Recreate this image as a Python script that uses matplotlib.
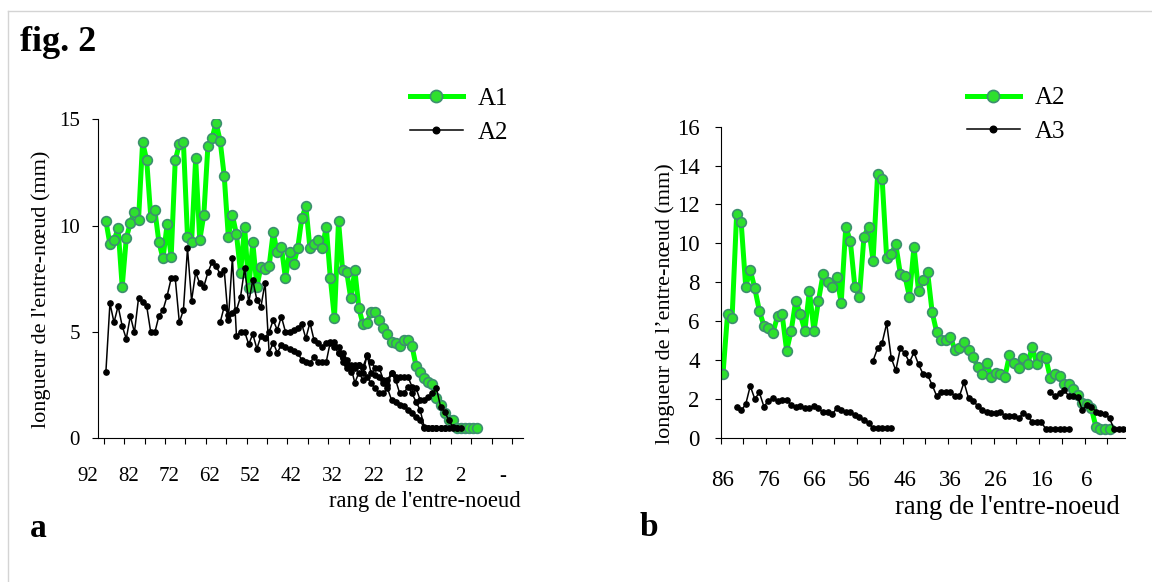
import numpy as np
import matplotlib.pyplot as plt
from matplotlib.lines import Line2D

plt.rcParams['font.family'] = ['Liberation Serif', 'DejaVu Serif']

W, H = 1152, 582

# ---- panel a : rank 92 -> 1 (category index 0 = rank 92)
a_xlabels = ['92', '82', '72', '62', '52', '42', '32', '22', '12', '2', '-']
a1_values = [10.23, 9.12, 9.32, 9.87, 7.13, 9.40, 10.14, 10.65, 10.26, 13.92,
             13.08, 10.42, 10.73, 9.21, 8.46, 10.06, 8.54, 13.08, 13.82, 13.92,
             9.48, 9.21, 13.16, 9.32, 10.50, 13.74, 14.10, 14.84, 13.99, 12.33,
             9.48, 10.50, 9.59, 7.79, 9.95, 7.05, 9.21, 7.13, 8.07, 7.96,
             8.10, 9.68, 8.74, 9.01, 7.52, 8.74, 8.19, 8.93, 10.34, 10.92,
             8.93, 9.12, 9.32, 8.93, 9.95, 7.52, 5.64, 10.23, 7.91, 7.83,
             6.58, 7.91, 6.11, 5.36, 5.44, 5.92, 5.92, 5.56, 5.20, 4.89,
             4.51, 4.47, 4.34, 4.62, 4.62, 4.34, 3.40, 3.13, 2.85, 2.66,
             2.55, 1.88, 1.57, 1.18, 0.86, 0.86, 0.47, 0.47, 0.47, 0.47,
             0.47, 0.47]
a2_plant1_start = 0
a2_plant1 = [3.10, 6.35, 5.45, 6.22, 5.28, 4.68, 5.75, 4.98, 6.58, 6.42,
             6.22, 4.98, 4.98, 5.75, 6.03, 6.69, 7.52, 7.52, 5.45, 6.03,
             8.93, 6.47, 7.80, 7.29, 7.13, 7.80, 8.27, 8.11, 7.71, 7.91,
             5.56, 8.49, 4.81, 5.01, 5.01, 4.42, 4.90, 4.21, 4.81, 4.73,
             5.00, 5.56, 5.09, 5.72, 5.01, 5.01, 5.09, 5.17, 5.37, 4.70,
             5.44, 4.62, 4.46, 4.31, 4.46, 4.46, 4.54, 4.31, 4.00, 3.68,
             3.44, 3.44, 3.47, 3.37, 3.87, 3.60, 3.29, 3.29, 2.74, 2.74,
             3.09, 2.90, 2.90, 2.90, 2.90, 2.43, 2.35, 1.80, 1.80, 1.96,
             2.11, 2.35, 1.49, 1.25, 0.86, 0.54, 0.47]
a2_plant2_start = 28
a2_plant2 = [5.45, 6.19, 5.80, 5.90, 6.03, 6.66, 7.99, 6.39, 7.44, 6.50,
             6.19, 7.32, 4.02, 4.50, 4.02, 4.40, 4.30, 4.20, 4.10, 4.03,
             3.68, 3.60, 3.52, 3.84, 3.60, 3.60, 3.60, 4.54, 4.31, 4.00,
             3.76, 3.44, 3.37, 2.61, 3.09, 2.74, 2.90, 2.58, 2.35, 2.11,
             2.11, 2.35, 1.80, 1.72, 1.56, 1.52, 1.33, 1.17, 0.98, 0.86,
             0.47, 0.47, 0.47, 0.47, 0.47, 0.47, 0.47, 0.47, 0.47, 0.47]
a2_plant3_start = 57
a2_plant3 = [4.00, 3.60, 3.30, 3.13, 3.29, 3.44, 3.05, 3.92, 3.05, 2.98,
             2.90, 2.58, 2.51, 3.09, 2.74, 2.11, 2.11, 2.43, 2.11, 1.72,
             1.33, 0.54, 0.47, 0.47, 0.47, 0.47, 0.47]

# ---- panel b : rank 86 -> -2 (category index 0 = rank 86)
b_xlabels = ['86', '76', '66', '56', '46', '36', '26', '16', '6']
b_a2_values = [3.26, 6.35, 6.14, 11.49, 11.08, 7.77, 8.63, 7.68, 6.53, 5.76,
               5.66, 5.40, 6.26, 6.35, 4.48, 5.50, 7.05, 6.35, 5.50, 7.56,
               5.50, 7.05, 8.40, 7.99, 7.77, 8.28, 6.95, 10.85, 10.12, 7.77,
               7.25, 10.34, 10.85, 9.10, 13.55, 13.31, 9.23, 9.45, 9.95, 8.43,
               8.32, 7.25, 9.83, 7.55, 8.11, 8.51, 6.45, 5.42, 5.03, 5.03,
               5.20, 4.51, 4.60, 4.91, 4.51, 4.17, 3.65, 3.26, 3.86, 3.14,
               3.34, 3.27, 3.14, 4.25, 3.86, 3.60, 4.08, 3.77, 4.68, 3.77,
               4.20, 4.08, 3.05, 3.27, 3.17, 2.75, 2.75, 2.49, 2.20, 1.80,
               1.73, 1.51, 0.57, 0.45, 0.45, 0.45]
b_a3_plant1_start = 3
b_a3_plant1 = [1.60, 1.40, 1.72, 2.66, 1.99, 2.33, 1.60, 1.90, 2.03, 1.90,
               1.94, 1.94, 1.68, 1.60, 1.64, 1.51, 1.51, 1.64, 1.51, 1.30,
               1.30, 1.20, 1.51, 1.40, 1.30, 1.30, 1.17, 1.08, 0.91, 0.77,
               0.48, 0.48, 0.48, 0.48, 0.48]
b_a3_plant2_start = 33
b_a3_plant2 = [3.96, 4.60, 4.89, 5.88, 4.10, 3.46, 4.60, 4.34, 3.88, 4.39,
               3.77, 3.28, 3.22, 2.71, 2.14, 2.37, 2.37, 2.37, 2.14, 2.14,
               2.85, 2.03, 1.91, 1.63, 1.42, 1.34, 1.25, 1.25, 1.34, 1.13,
               1.13, 1.13, 0.99, 1.25, 1.13, 0.79, 0.79, 0.79, 0.45, 0.45,
               0.45, 0.45, 0.45, 0.45]
b_a3_plant3_start = 72
b_a3_plant3 = [2.33, 2.16, 2.28, 2.45, 2.16, 2.16, 2.11, 1.42, 1.68, 1.60,
               1.34, 1.29, 1.22, 0.99, 0.45, 0.45, 0.45]

green = dict(color='#00ff00', lw=3.6, marker='o', ms=7, mfc='#2ee02e',
             mec='#3d8f6f', mew=1.2, zorder=2)
black = dict(color='black', lw=1.1, marker='o', ms=3.8, zorder=3)


def seg(start, vals):
    return np.arange(start, start + len(vals)), vals


fig = plt.figure(figsize=(W / 100, H / 100), dpi=100)


def fx(x):
    return x / W


def fy(y):
    return 1 - y / H


# thin frame of the original figure
fig.add_artist(Line2D([fx(7.5), fx(7.5)], [0, fy(10.5)], transform=fig.transFigure,
                      color='#d4d4d4', lw=1))
fig.add_artist(Line2D([fx(7.5), 1], [fy(10.5), fy(10.5)], transform=fig.transFigure,
                      color='#d4d4d4', lw=1))


def style_axes(ax, xmax, ymax, ystep, tick_fs, ypad, xpad):
    for s in ['top', 'right']:
        ax.spines[s].set_visible(False)
    for s in ['left', 'bottom']:
        ax.spines[s].set_linewidth(0.8)
    ax.set_xlim(-0.5, xmax)
    ax.set_ylim(0, ymax)
    ax.set_yticks(np.arange(0, ymax + 0.1, ystep))
    ax.set_xticks(np.arange(-0.5, xmax - 2, 5), minor=True)
    ax.tick_params(axis='x', which='minor', length=4.3, width=0.8, direction='out')
    ax.tick_params(axis='x', which='major', length=0, pad=xpad, labelsize=tick_fs)
    ax.tick_params(axis='y', length=4.3, width=0.8, direction='out', pad=ypad,
                   labelsize=tick_fs)
    ax.patch.set_alpha(0)


def add_legend(ax, handles, x, y):
    ax.legend(handles=handles, loc='center left', bbox_to_anchor=(fx(x), fy(y)),
              bbox_transform=fig.transFigure, frameon=False, fontsize=18,
              handlelength=2.1, handletextpad=0.62, labelspacing=0.45,
              borderpad=0, borderaxespad=0, markerscale=1.25)


# ---------- panel a
axa = fig.add_axes([fx(97.7), fy(438.3), fx(523 - 97.7), (438.3 - 119.3) / H])
x, y = seg(0, a1_values)
la1, = axa.plot(x, y, label='A1', **green)
for st, vals in [(a2_plant1_start, a2_plant1), (a2_plant2_start, a2_plant2),
                 (a2_plant3_start, a2_plant3)]:
    x, y = seg(st, vals)
    la2, = axa.plot(x, y, **black)
la2.set_label('A2')
style_axes(axa, 102.2, 15, 5, 15, 8.4, 21)
axa.set_xticks(np.arange(len(a_xlabels)) * 10 - 2.0)
axa.set_xticklabels(a_xlabels, ha='right')
add_legend(axa, [la1, la2], 410, 115.5)

# ---------- panel b
axb = fig.add_axes([fx(720.7), fy(437.7), fx(1125 - 720.7), (437.7 - 126.7) / H])
x, y = seg(0, b_a2_values)
lb2, = axb.plot(x, y, label='A2', **green)
for st, vals in [(b_a3_plant1_start, b_a3_plant1), (b_a3_plant2_start, b_a3_plant2),
                 (b_a3_plant3_start, b_a3_plant3)]:
    x, y = seg(st, vals)
    lb3, = axb.plot(x, y, **black)
lb3.set_label('A3')
style_axes(axb, 88.4, 16, 2, 16.5, 10.8, 23)
axb.set_xticks(np.arange(len(b_xlabels)) * 10)
axb.set_xticklabels(b_xlabels)
add_legend(axb, [lb2, lb3], 967, 115)

# ---------- texts
fig.text(fx(20), fy(51), 'fig. 2', fontsize=26, fontweight='bold', va='baseline')
fig.text(fx(30), fy(537), 'a', fontsize=24, fontweight='bold', va='baseline')
fig.text(fx(640), fy(536), 'b', fontsize=24, fontweight='bold', va='baseline')
fig.text(fx(521), fy(501), "rang de l'entre-noeud", fontsize=16.3, ha='right', va='center')
fig.text(fx(1120), fy(508), "rang de l'entre-noeud", fontsize=19.2, ha='right', va='center')
fig.text(fx(41), fy(289), "longueur de l'entre-nœud (mm)", fontsize=16, rotation=90,
         ha='center', va='center')
fig.text(fx(665), fy(304), "longueur de l\u2019entre-nœud (mm)", fontsize=16, rotation=90,
         ha='center', va='center')

fig.savefig('out.png', dpi=100, facecolor='white')
